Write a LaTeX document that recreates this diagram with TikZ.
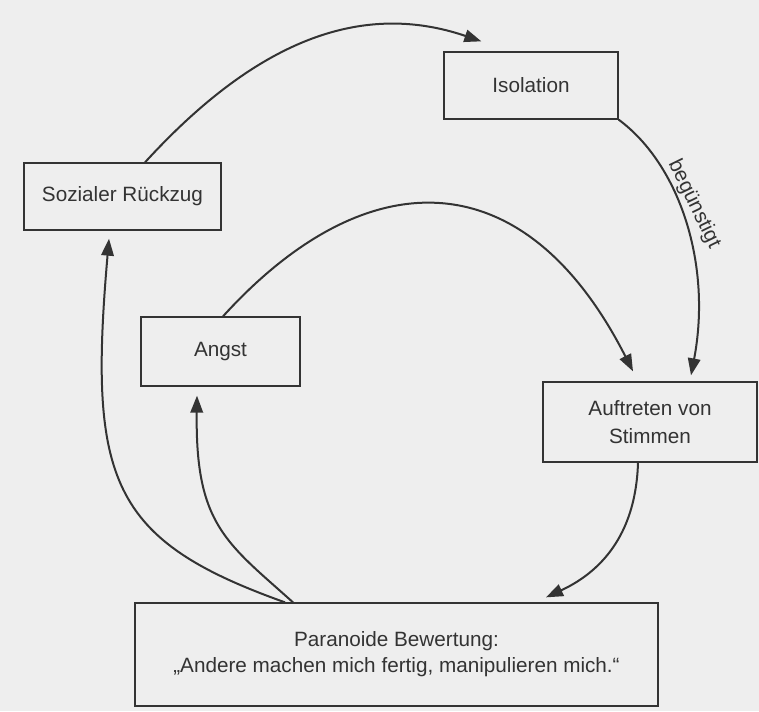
\documentclass[tikz,border=0pt]{standalone}
\usepackage{fontspec}
\setmainfont{Liberation Sans}
\usetikzlibrary{arrows.meta}
\definecolor{paper}{HTML}{EEEEEE}
\definecolor{ink}{HTML}{333333}
\begin{document}
\begin{tikzpicture}[x=1pt,y=-1pt,
  box/.style={draw=ink, line width=1.3pt, inner sep=0pt, align=center,
    text=ink, font=\fontsize{20.7}{27.5}\selectfont},
  flow/.style={draw=ink, line width=2pt,
    -{Triangle[length=17pt,width=12.5pt]}},
  note/.style={text=ink, font=\fontsize{20.7}{25}\selectfont, inner sep=0pt}]
% paper and page frame
\fill[paper] (0,0) rectangle (759,711);
\useasboundingbox (0,0) rectangle (759,711);

% the five stations of the cycle
\node[box, minimum width=174pt, minimum height=67pt] (iso) at (531,85.5) {Isolation};
\node[box, minimum width=197pt, minimum height=67pt] (soz) at (122.5,196.5) {Sozialer Rückzug};
\node[box, minimum width=159pt, minimum height=69pt] (angst) at (220.5,351.5) {Angst};
\node[box, minimum width=214pt, minimum height=80pt] (auf) at (650,422) {Auftreten von\\Stimmen};
\node[box, minimum width=523pt, minimum height=103pt,
  font=\fontsize{20.7}{26}\selectfont] (par) at (396.5,654.5)
  {Paranoide Bewertung:\\„Andere machen mich fertig, manipulieren mich.“};

% connectors
\draw[flow] ([xshift=22.5pt]soz.north) .. controls (255,42) and (360,0) ..
  ([xshift=38pt,yshift=10pt]iso.north west);
\draw[flow] (iso.south east) .. controls (680,165) and (712,265) ..
  ([xshift=41pt,yshift=6pt]auf.north);
\node[note, rotate=-64] (lab) at (694,204) {begünstigt};
\draw[flow] ([xshift=2.5pt]angst.north) .. controls (365,160) and (524,157) ..
  ([xshift=-17pt,yshift=10pt]auf.north);
\draw[flow] ([xshift=-12pt]auf.south) .. controls (636,530) and (605,570) ..
  ([xshift=149.5pt,yshift=5pt]par.north);
\draw[flow] ([xshift=-103.5pt]par.north) .. controls (227,543) and (195,525) ..
  ([xshift=-23.5pt,yshift=-9pt]angst.south);
\draw[flow] ([xshift=-111.5pt]par.north) .. controls (110,540) and (88,480) ..
  ([xshift=-13.5pt,yshift=-8pt]soz.south);
\end{tikzpicture}
\end{document}
